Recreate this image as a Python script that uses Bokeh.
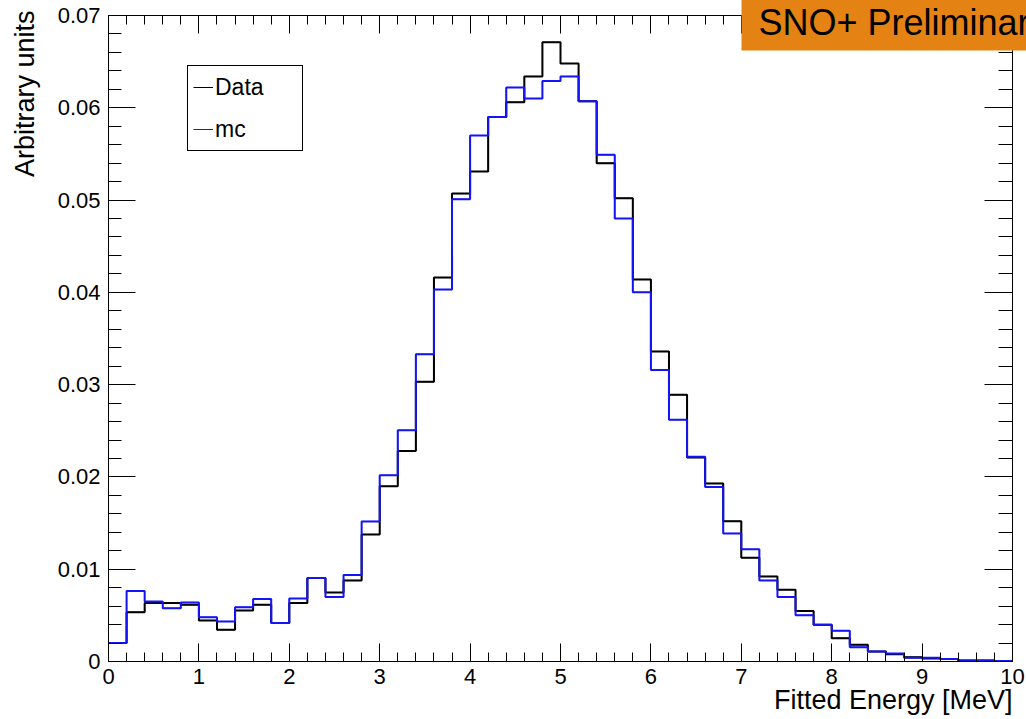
from bokeh.plotting import figure
from bokeh.models import (Range1d, FixedTicker, LinearAxis, Label, Legend, LegendItem, Title,
                          CustomJSTickFormatter)
from bokeh.embed import file_html
from bokeh.resources import INLINE
import math

# ---- data (bin contents, 50 bins of 0.2 MeV from 0 to 10 MeV) ----
bin_lo = 0.0
bin_hi = 10.0
data_vals = [
    0.0020, 0.00535, 0.00633, 0.00633, 0.00615, 0.00445, 0.00343, 0.00553, 0.00615, 0.00416,
    0.00633, 0.00904, 0.00748, 0.00879, 0.01377, 0.01898, 0.02281, 0.0303, 0.0416, 0.0507,
    0.0531, 0.0590, 0.0606, 0.0634, 0.0671, 0.0648, 0.0607, 0.0540, 0.0502, 0.0414,
    0.0336, 0.0289, 0.0221, 0.0193, 0.0152, 0.01125, 0.00922, 0.00778, 0.00546, 0.00398,
    0.00253, 0.00181, 0.00108, 0.00079, 0.00047, 0.00033, 0.00026, 0.0001, 0.0001, 0.00005]
mc_vals = [
    0.0020, 0.00763, 0.0065, 0.00578, 0.0064, 0.0048, 0.00434, 0.00589, 0.00676, 0.00416,
    0.00683, 0.00904, 0.00698, 0.00936, 0.01518, 0.02017, 0.02505, 0.0333, 0.0403, 0.0501,
    0.0570, 0.0590, 0.0622, 0.0610, 0.0629, 0.0634, 0.0607, 0.0549, 0.0480, 0.0400,
    0.0316, 0.0262, 0.0222, 0.0189, 0.01388, 0.01215, 0.00879, 0.00698, 0.00502, 0.00398,
    0.00333, 0.00155, 0.00108, 0.00087, 0.0004, 0.0004, 0.00026, 0.0001, 0.0001, 0.00005]
series_names = ["Data", "mc"]
x_major = [0, 1, 2, 3, 4, 5, 6, 7, 8, 9, 10]
y_major = [0.0, 0.01, 0.02, 0.03, 0.04, 0.05, 0.06, 0.07]
y_labels = ["0", "0.01", "0.02", "0.03", "0.04", "0.05", "0.06", "0.07"]
x_title = "Fitted Energy [MeV]"
y_title = "Arbitrary units"
banner = "SNO+ Preliminary"

nb = len(data_vals)
w = (bin_hi - bin_lo) / nb
edges = [bin_lo + i * w for i in range(nb + 1)]


def outline(vals):
    xs, ys = [], []
    for i, v in enumerate(vals):
        xs += [edges[i], edges[i + 1]]
        ys += [v, v]
    return xs, ys


FONT = "Liberation Sans"
BLUE = "#1414F5"

p = figure(width=1026, height=719, output_backend="svg", toolbar_location=None,
           x_range=Range1d(0, 10), y_range=Range1d(0, 0.07),
           min_border_left=108, min_border_right=14, min_border_top=15, min_border_bottom=58)
p.xgrid.visible = False
p.ygrid.visible = False
p.outline_line_color = "black"
p.outline_line_width = 1
p.background_fill_color = "white"
p.border_fill_color = "white"

x_minor = [round(i * 0.2, 1) for i in range(51)]
y_minor = [round(i * 0.002, 3) for i in range(36)]
xt = FixedTicker(ticks=x_major, minor_ticks=x_minor)
yt = FixedTicker(ticks=y_major, minor_ticks=y_minor)

xa = p.xaxis[0]
xa.ticker = xt
xa.major_tick_in = 18
xa.major_tick_out = 0
xa.minor_tick_in = 9
xa.minor_tick_out = 0
xa.major_label_standoff = 7
xa.major_label_text_font = FONT
xa.major_label_text_font_size = "22px"
xa.major_label_text_color = "black"
xa.axis_line_color = "black"

ya = p.yaxis[0]
ya.ticker = yt
ya.major_tick_in = 27
ya.major_tick_out = 0
ya.minor_tick_in = 13
ya.minor_tick_out = 0
ya.major_label_standoff = 8
ya.major_label_text_font = FONT
ya.major_label_text_font_size = "22px"
ya.major_label_text_color = "black"
ya.major_label_overrides = {v: s for v, s in zip(y_major, y_labels)}
ya.axis_line_color = "black"

top = LinearAxis(ticker=xt, formatter=CustomJSTickFormatter(code="return ''"),
                 major_tick_in=18, major_tick_out=0, minor_tick_in=9,
                 minor_tick_out=0, major_label_standoff=0, axis_line_color="black")
right = LinearAxis(ticker=yt, formatter=CustomJSTickFormatter(code="return ''"),
                   major_tick_in=28, major_tick_out=0, minor_tick_in=14,
                   minor_tick_out=0, major_label_standoff=0, axis_line_color="black")
p.add_layout(top, "above")
p.add_layout(right, "right")

dx, dy = outline(data_vals)
mx, my = outline(mc_vals)
# thin copies (used as legend glyphs), hidden under the thick outlines
l1 = p.line(dx, dy, line_color="black", line_width=1)
l2 = p.line(mx, my, line_color=BLUE, line_width=1)
p.line(dx, dy, line_color="black", line_width=2)
p.line(mx, my, line_color=BLUE, line_width=2)

leg = Legend(items=[LegendItem(label=series_names[0], renderers=[l1]),
                    LegendItem(label=series_names[1], renderers=[l2])],
             location=(79, 510), padding=5, spacing=10, glyph_width=20, glyph_height=32,
             label_height=32, label_standoff=2, label_width=82,
             label_text_font=FONT, label_text_font_size="23px", label_text_color="black",
             border_line_color="black", border_line_width=1, border_line_alpha=1.0,
             background_fill_color="white", background_fill_alpha=1.0, margin=0)
p.add_layout(leg, "center")

p.add_layout(Title(text=x_title, align="right", text_font=FONT, text_font_size="27px",
                   text_font_style="normal", text_color="black", standoff=-8), "below")


def py(px):
    return (661 - px) / 646.0 * 0.07


def pxx(px):
    return (px - 108) / 904.0 * 10


p.add_layout(Label(x=pxx(24), y=py(10), text=y_title, text_align="right",
                   text_baseline="alphabetic", angle=math.pi / 2, text_font=FONT,
                   text_font_size="27px", text_color="black"), "left")

p.add_layout(Title(text=banner, align="left", vertical_align="top", offset=633, standoff=-74,
                   text_font=FONT, text_font_size="36px", text_font_style="normal",
                   text_color="black", background_fill_color="#E58214",
                   background_fill_alpha=1.0,
                   padding=dict(left=17, right=17, top=30, bottom=8)), "above")

open("out.html", "w").write(file_html(p, INLINE))
